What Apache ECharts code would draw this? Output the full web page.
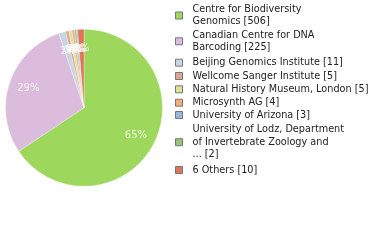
<!DOCTYPE html>
<html><head><meta charset="utf-8">
<script src="https://cdn.jsdelivr.net/npm/echarts@6/dist/echarts.min.js"></script>
<style>html,body{margin:0;padding:0;background:#fff}#c{width:380px;height:240px}</style>
</head><body><div id="c"></div>
<script>
const names = ['Centre for Biodiversity\nGenomics [506]','Canadian Centre for DNA\nBarcoding [225]','Beijing Genomics Institute [11]','Wellcome Sanger Institute [5]','Natural History Museum, London [5]','Microsynth AG [4]','University of Arizona [3]','University of Lodz, Department\nof Invertebrate Zoology and\n... [2]','6 Others [10]'];
const values = [506,225,11,5,5,4,3,2,10];
const colors = ['#9dd85c','#dcbcdc','#c8d6e2','#e0a596','#e0e096','#f0ae74','#98b8e0','#98c274','#e07458'];
const legendCenters = [15.5,41.3,62.7,76,89.3,102.7,115,142.2,170];
const total = values.reduce((a,b)=>a+b,0);
const LH = 12.3;
const data = names.map((n,i)=>({name:n,value:values[i],itemStyle:{color:colors[i]}}));
// label anchor points: middle of each slice in value units along the angle axis
let acc = 0;
const labelPts = values.map(v=>{const mid = acc + v/2; acc += v; return {value:[0.75, mid], pct: Math.floor(v/total*100)};});
const legends = names.map((n,i)=>{
  const lines = n.split('\n').length;
  return {
    data:[n], orient:'vertical', left:175, top: legendCenters[i] - lines*LH/2, padding:0,
    itemWidth:7, itemHeight:7, icon:'rect', selectedMode:false,
    itemStyle:{borderColor:'#777',borderWidth:1},
    textStyle:{fontFamily:'DejaVu Sans',fontSize:9.7,color:'#222',lineHeight:LH,padding:[0,0,0,5]}
  };
});
const chart = echarts.init(document.getElementById('c'),null,{renderer:'canvas'});
chart.setOption({
  animation:false,
  legend: legends,
  polar:{center:[84,107.7],radius:78.5},
  angleAxis:{type:'value',min:0,max:total,startAngle:90,clockwise:true,show:false},
  radiusAxis:{type:'value',min:0,max:1,show:false},
  series:[
    {type:'pie',center:[84,107.7],radius:[0,78.5],startAngle:90,clockwise:true,
     data:data,label:{show:false},labelLine:{show:false},silent:true,
     itemStyle:{borderColor:'#fff',borderWidth:0.3}},
    {type:'scatter',coordinateSystem:'polar',symbolSize:0,silent:true,z:10,
     data:labelPts,
     label:{show:true,position:'inside',color:'#fff',fontFamily:'DejaVu Sans',fontSize:10,
       formatter:p=>p.data.pct+'%'},
     labelLayout:{hideOverlap:false}}
  ]
});
</script></body></html>
